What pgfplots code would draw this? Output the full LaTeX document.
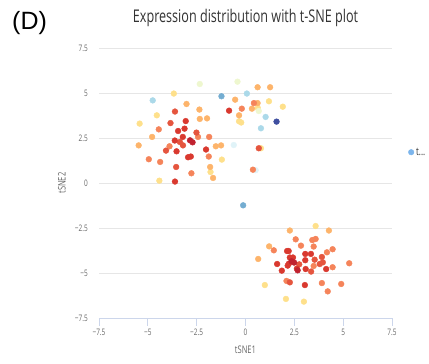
\documentclass[border=0pt]{standalone}
\usepackage{pgfplots}
\pgfplotsset{compat=1.18}
\usepackage{fontspec}
\setmainfont{Open Sans}[FakeStretch=0.72]
\newfontfamily\panelfont{Liberation Sans}
\definecolor{c1}{HTML}{C0222F}
\definecolor{c2}{HTML}{D9392F}
\definecolor{c3}{HTML}{E5553E}
\definecolor{c4}{HTML}{F5845A}
\definecolor{c5}{HTML}{FDB46B}
\definecolor{c6}{HTML}{FEE08B}
\definecolor{c7}{HTML}{EEF7CF}
\definecolor{c8}{HTML}{E0F3F8}
\definecolor{c9}{HTML}{ABD9E9}
\definecolor{c10}{HTML}{74ADD1}
\definecolor{c11}{HTML}{3F4FA0}
\definecolor{hcblue}{HTML}{7CB5EC}
\definecolor{axcol}{HTML}{CCD6EB}
\definecolor{gridcol}{HTML}{E6E6E6}
\definecolor{labcol}{HTML}{666666}
\definecolor{titcol}{HTML}{333333}
\begin{document}
\begin{tikzpicture}
\begin{axis}[
  scale only axis, width=293pt, height=270pt,
  xmin=-7.5, xmax=7.5, ymin=-7.5, ymax=7.5,
  axis lines*=left,
  x axis line style={color=axcol, line width=0.8pt},
  y axis line style={draw=none},
  xtick={-7.5,-5,-2.5,0,2.5,5,7.5},
  xticklabels={−7.5,−5,−2.5,0,2.5,5,7.5},
  ytick={-7.5,-5,-2.5,0,2.5,5,7.5},
  yticklabels={−7.5,−5,−2.5,0,2.5,5,7.5},
  xtick style={color=axcol, line width=0.8pt},
  ytick style={draw=none},
  tick align=outside, major tick length=8pt,
  ymajorgrids, major grid style={color=gridcol, line width=0.8pt},
  ticklabel style={font=\fontsize{9}{10}\selectfont, text=labcol},
  xticklabel style={inner sep=0pt, anchor=north, yshift=-3pt},
  yticklabel style={inner sep=0pt, anchor=east, xshift=-3pt},
  xlabel={tSNE1}, ylabel={tSNE2},
  label style={font=\fontsize{10.5}{12}\selectfont, text=labcol},
  xlabel style={at={(axis description cs:0.5,0)}, anchor=center, yshift=-32pt},
  ylabel style={at={(axis description cs:0,0.5)}, anchor=center, yshift=37pt},
  legend style={at={(axis description cs:1.0546,0.614)}, anchor=west, draw=none, fill=none,
    font=\fontsize{11}{12}\selectfont, text=titcol, inner sep=0pt},
  legend cell align=left,
  clip=false,
  every axis plot/.append style={only marks, mark=*, mark size=2.9pt, mark options={draw=none, fill opacity=0.78}},
]
\addlegendimage{legend image code/.code={\fill[hcblue] (2.8pt,0pt) circle (2.8pt);}}
\addlegendentry{t...}
\addplot[c6, mark options={fill=c6}] coordinates {(-5.42,3.30)(-4.54,3.76)(-4.41,0.13)(-3.67,4.97)(-1.79,0.61)(-1.21,1.30)(-0.33,3.43)(-0.22,3.36)(0.63,4.17)(1.20,4.54)(1.91,4.24)(0.79,1.93)(3.59,-2.39)(0.99,-5.67)(2.07,-6.44)(2.99,-6.59)};
\addplot[c7, mark options={fill=c7}] coordinates {(-2.34,5.50)(-0.41,5.63)(0.68,4.00)};
\addplot[c8, mark options={fill=c8}] coordinates {(-0.60,2.11)(0.52,0.71)};
\addplot[c5, mark options={fill=c5}] coordinates {(-5.47,2.09)(-4.78,2.56)(-3.02,4.39)(-2.36,4.08)(-2.34,3.56)(-1.97,3.59)(-1.81,0.89)(-1.66,0.28)(-1.52,2.04)(-1.25,2.09)(-0.53,4.63)(-0.33,3.76)(0.62,5.32)(1.26,5.32)(0.62,4.44)(0.33,4.13)(2.27,-2.64)(4.27,-2.64)(1.21,-3.52)(0.65,-4.22)};
\addplot[c4, mark options={fill=c4}] coordinates {(-4.44,2.98)(-4.95,1.32)(-4.37,1.17)(-3.89,2.04)(-2.77,0.54)(-2.43,2.56)(-1.86,2.56)(-1.88,1.47)(-0.19,4.13)(0.43,4.44)(0.38,0.74)(2.57,-3.13)(3.42,-3.17)(3.59,-3.11)(1.45,-3.74)(2.84,-3.48)(3.49,-3.53)(4.17,-3.85)(4.46,-3.68)(3.49,-4.61)(4.46,-4.68)(5.31,-4.46)(2.10,-5.44)(3.91,-5.56)(4.90,-5.61)(4.21,-6.02)};
\addplot[c3, mark options={fill=c3}] coordinates {(-3.84,3.33)(-3.61,3.97)(-4.07,1.80)(-3.55,0.89)(-3.36,2.28)(-3.20,2.09)(-2.51,2.80)(0.68,1.93)(3.91,-4.11)(3.54,-4.26)(2.75,-4.52)(3.36,-4.92)(3.80,-4.50)(3.96,-4.41)(2.27,-5.52)};
\addplot[c2, mark options={fill=c2}] coordinates {(-3.62,2.36)(-3.53,1.76)(-3.61,0.08)(-3.45,2.89)(-3.21,2.56)(-3.12,3.02)(-3.06,3.44)(-2.94,1.43)(-2.80,1.47)(-2.02,1.86)(-0.84,4.02)(2.13,-3.78)(2.21,-3.78)(3.35,-3.94)(3.06,-3.94)(2.27,-4.14)(2.43,-4.14)(2.22,-4.48)(3.06,-4.29)(1.62,-4.50)(2.16,-4.59)(2.63,-4.76)(3.08,-4.78)(1.86,-4.87)(4.13,-4.78)(3.04,-5.67)};
\addplot[c1, mark options={fill=c1}] coordinates {(-2.84,2.37)(-2.71,2.26)(2.36,-4.35)(2.49,-4.42)(2.67,-4.85)};
\addplot[c9, mark options={fill=c9}] coordinates {(-4.75,4.59)(0.07,4.97)(1.03,3.67)(0.79,3.04)};
\addplot[c10, mark options={fill=c10}] coordinates {(-1.23,4.82)(-0.12,-1.24)};
\addplot[c11, mark options={fill=c11}] coordinates {(1.59,3.41)};
\node[font=\fontsize{17.5}{19}\selectfont, text=titcol, anchor=center] at (axis description cs:0.5,1.11) {Expression distribution with t-SNE plot};
\end{axis}
\node[font=\panelfont\fontsize{25}{28}\selectfont, anchor=west, inner sep=0pt] at (-87pt,295pt) {(D)};
\useasboundingbox (-99pt,-46pt) rectangle (330pt,318pt);
\end{tikzpicture}
\end{document}
